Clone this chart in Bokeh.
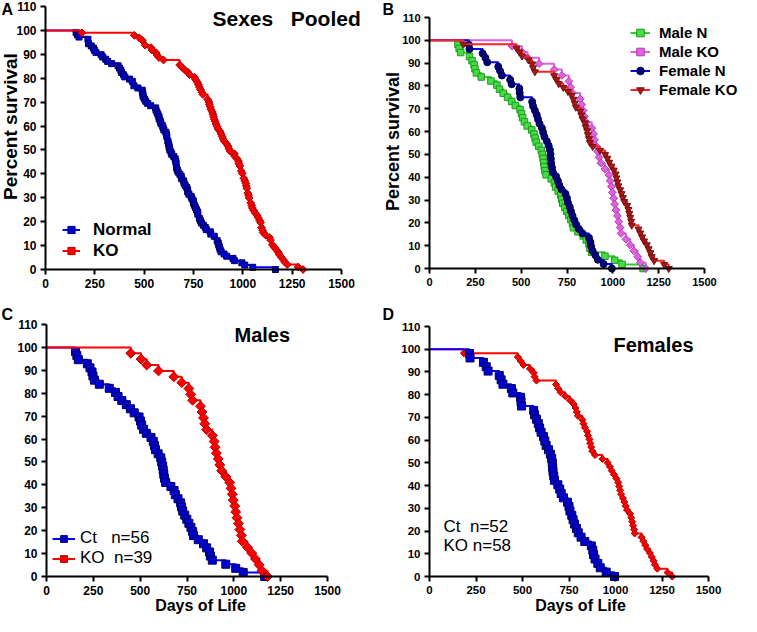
import numpy as np
from bokeh.plotting import figure
from bokeh.layouts import column, row
from bokeh.models import Range1d, FixedTicker, Legend, LegendItem, Label
from bokeh.embed import file_html
from bokeh.resources import INLINE

# ---- data: estimated day of death for each animal ----
male_ct = [155, 162, 170, 218, 232, 243, 248, 256, 282, 335, 368, 382, 402, 426, 448,
           468, 494, 502, 508, 518, 533, 558, 570, 576, 582, 596, 610, 615, 620, 623,
           626, 630, 636, 664, 681, 688, 702, 716, 721, 727, 738, 749, 760, 771, 780,
           785, 810, 838, 855, 870, 875, 885, 957, 1010, 1050, 1165]
male_ko = [450, 505, 535, 598, 680, 722, 760, 770, 780, 822, 830, 838, 845, 855, 885,
           895, 900, 907, 917, 925, 935, 957, 978, 985, 992, 997, 1005, 1010, 1017, 1025,
           1032, 1040, 1045, 1072, 1095, 1115, 1135, 1150, 1180]
female_ct = [215, 218, 290, 305, 315, 375, 385, 395, 440, 448, 490, 492, 495, 560, 565,
             575, 585, 592, 600, 613, 620, 627, 640, 650, 657, 660, 662, 664, 668, 672,
             690, 700, 708, 720, 742, 750, 755, 765, 772, 780, 790, 800, 815, 835, 870,
             878, 882, 890, 905, 918, 950, 995]
female_ko = [185, 475, 490, 505, 540, 560, 565, 575, 680, 692, 705, 730, 755, 775, 785,
             792, 798, 822, 828, 835, 848, 852, 860, 864, 870, 875, 890, 930, 958, 970,
             980, 992, 1005, 1015, 1020, 1025, 1030, 1040, 1048, 1055, 1062, 1078, 1085, 1090, 1095,
             1100, 1103, 1140, 1150, 1160, 1170, 1185, 1195, 1205, 1212, 1225, 1280, 1305]

x_ticks = [0, 250, 500, 750, 1000, 1250, 1500]
y_ticks = [0, 10, 20, 30, 40, 50, 60, 70, 80, 90, 100, 110]
X_MAX, Y_MAX = 1500, 110

FONT = "Liberation Sans"
ROT = np.pi / 4


def km(times):
    t = np.sort(np.asarray(times, dtype=float))
    uniq, counts = np.unique(t, return_counts=True)
    at_risk = len(t)
    s = 1.0
    xs, ys = [0.0], [100.0]
    for u, c in zip(uniq, counts):
        s *= (at_risk - c) / at_risk
        at_risk -= c
        xs.append(float(u))
        ys.append(100.0 * s)
    return xs, ys


def make_fig(W, H, px0, px1, py0, pytop, tick_size):
    """Figure whose frame fills the whole canvas; axes pinned at data 0."""
    sx = (px1 - px0) / X_MAX
    sy = (py0 - pytop) / Y_MAX
    xr = Range1d(-px0 / sx, X_MAX + (W - px1) / sx)
    yr = Range1d(-(H - py0) / sy, Y_MAX + pytop / sy)
    p = figure(width=W, height=H, min_border=0,
               x_range=xr, y_range=yr,
               output_backend="svg", toolbar_location=None,
               background_fill_color="white", border_fill_color="white",
               outline_line_color=None)
    p.grid.visible = False
    for ax, b in ((p.xaxis[0], (0, X_MAX)), (p.yaxis[0], (0, Y_MAX))):
        ax.fixed_location = 0
        ax.bounds = b
        ax.axis_line_width = 2
        ax.axis_line_color = "black"
        ax.major_tick_line_width = 2
        ax.major_tick_line_color = "black"
        ax.major_tick_out = 5
        ax.major_tick_in = 0
        ax.minor_tick_line_color = None
        ax.major_label_text_font = FONT
        ax.major_label_text_font_style = "bold"
        ax.major_label_text_font_size = tick_size
        ax.major_label_text_color = "black"
        ax.major_label_standoff = 4
    p.xaxis[0].ticker = FixedTicker(ticks=x_ticks)
    p.yaxis[0].ticker = FixedTicker(ticks=y_ticks)
    return p


def curve(p, times, line_color, marker, size, fill, edge, angle=0.0):
    xs, ys = km(times)
    lr = p.step(xs, ys, mode="after", line_color=line_color, line_width=2)
    sr = p.scatter(xs[1:], ys[1:], marker=marker, size=size, angle=angle,
                   fill_color=fill, line_color=edge, line_width=1)
    return [lr, sr]


def text(p, txt, x, y, size, style="bold", baseline="middle", align="left", angle=0.0):
    p.add_layout(Label(x=x, y=y, x_units="screen", y_units="screen", text=txt,
                       text_font=FONT, text_font_style=style, text_font_size=size,
                       text_baseline=baseline, text_align=align, angle=angle,
                       text_color="black"))


def legend(p, items, loc, fsize, gw, gh, standoff, style="bold"):
    lg = Legend(items=[LegendItem(label=l, renderers=r) for l, r in items],
                location=loc, padding=0, margin=0, spacing=0,
                glyph_width=gw, glyph_height=gh, label_height=gh,
                label_standoff=standoff, label_text_font=FONT,
                label_text_font_style=style, label_text_font_size=fsize,
                label_text_color="black",
                background_fill_alpha=0, border_line_color=None)
    p.add_layout(lg)


BLUE_L, BLUE_F, BLUE_E = "#0000ff", "#0000d0", "#00006a"
RED_L, RED_F, RED_E = "#ff0000", "#ff0000", "#b00000"

# ---- Panel A: sexes pooled ----
pA = make_fig(372, 302, 45, 341, 269, 6, "12px")
rA_n = curve(pA, male_ct + female_ct, BLUE_L, "square", 6, BLUE_F, BLUE_E)
rA_k = curve(pA, male_ko + female_ko, RED_L, "square", 5.5, RED_F, RED_E, ROT)
legend(pA, [("Normal", rA_n), ("KO", rA_k)], (62, 41), "17px", 18, 21, 13)
text(pA, "Sexes\u00a0\u00a0\u00a0Pooled", 212, 284, "21px")
text(pA, "Percent survival", 10, 176, "19px", align="center", angle=np.pi / 2)
text(pA, "A", 1, 302, "16px", baseline="top")

# ---- Panel B: four groups ----
pB = make_fig(369, 302, 57, 332, 268, 17, "11px")
rB1 = curve(pB, male_ct, "#33cc33", "square", 6.5, "#44dd44", "#229922")
rB2 = curve(pB, male_ko, "#e060e0", "square", 5.5, "#e060e0", "#b040b0", ROT)
rB3 = curve(pB, female_ct, "#0000ff", "circle", 7, "#000080", "#000040")
rB4 = curve(pB, female_ko, "#ff2020", "inverted_triangle", 7, "#b01515", "#701010")
legend(pB, [("Male N", rB1), ("Male KO", rB2), ("Female N", rB3), ("Female KO", rB4)],
       (258, 203), "15px", 20, 19, 9)
text(pB, "Percent survival", 20, 161, "18px", align="center", angle=np.pi / 2)
text(pB, "B", 10, 302, "16px", baseline="top")

# ---- Panel C: males ----
pC = make_fig(372, 314, 46, 327, 274, 22, "12px")
rC_ct = curve(pC, male_ct, BLUE_L, "square", 8, BLUE_F, BLUE_E)
rC_ko = curve(pC, male_ko, RED_L, "square", 7, RED_F, RED_E, ROT)
legend(pC, [("Ct\u00a0\u00a0\u00a0n=56", rC_ct), ("KO\u00a0\u00a0n=39", rC_ko)],
       (52, 48), "17px", 23, 17, 5, style="normal")
text(pC, "Males", 234, 282, "20px")
text(pC, "Days of Life", 200, 11, "16px", align="center")
text(pC, "C", 1, 311, "16px", baseline="top")

# ---- Panel D: females ----
pD = make_fig(369, 314, 57, 336, 274, 24, "11.5px")
rD_ko = curve(pD, female_ko, RED_L, "square", 5, RED_F, RED_E, ROT)
rD_ct = curve(pD, female_ct, BLUE_L, "square", 8, BLUE_F, BLUE_E)
text(pD, "Females", 241, 272, "20px")
text(pD, "Ct\u00a0\u00a0n=52", 71, 90, "17px", style="normal")
text(pD, "KO\u00a0n=58", 71, 71, "17px", style="normal")
text(pD, "Days of Life", 208, 11, "16px", align="center")
text(pD, "D", 10, 311, "16px", baseline="top")

layout = column(row(pA, pB), row(pC, pD))
open("out.html", "w").write(file_html(layout, INLINE))
